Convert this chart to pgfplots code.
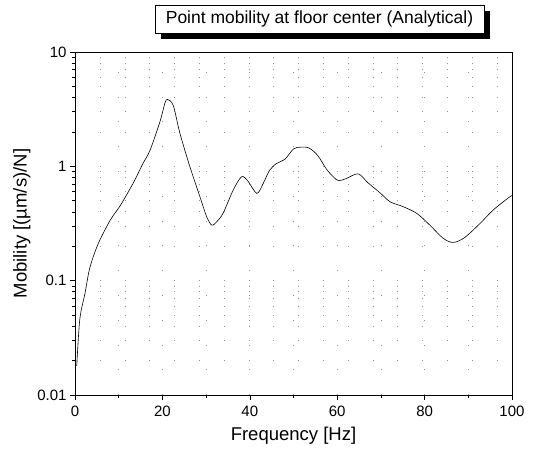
\documentclass[border=0pt]{standalone}
\usepackage{fontspec}
\setmainfont{Liberation Sans}
\usepackage{pgfplots}
\pgfplotsset{compat=1.18}
\begin{document}
\begin{tikzpicture}
\useasboundingbox (-75pt,-56pt) rectangle (461pt,395pt);
\begin{axis}[
  scale only axis,
  width=437pt, height=343pt,
  at={(0pt,0pt)}, anchor=south west,
  ymode=log,
  xmin=0, xmax=100, ymin=0.01, ymax=10,
  xtick={0,20,40,60,80,100},
  minor xtick={10,30,50,70,90},
  ytick={0.01,0.1,1,10},
  yticklabels={0.01,0.1,1,10},
  tick align=outside,
  xtick pos=left, ytick pos=left,
  major tick length=5pt, minor tick length=3pt,
  grid=both,
  major grid style={gray!80, line width=0.7pt, dash pattern=on 0.8pt off 24pt},
  minor grid style={gray!80, line width=0.7pt, dash pattern=on 0.8pt off 24pt},
  axis line style={line width=0.8pt},
  tick style={black, line width=0.6pt},
  /pgf/number format/assume math mode=true,
  ticklabel style={font=\fontsize{15}{17}\selectfont},
  xticklabel style={yshift=-2pt},
  label style={font=\fontsize{18.5}{20}\selectfont},
  xlabel={Frequency [Hz]},
  ylabel={Mobility [(µm/s)/N]},
  xlabel style={yshift=-4pt},
  ylabel style={yshift=0pt},
]
\addplot[black, line width=0.6pt, smooth] coordinates {
(0.4,0.0180) (1.1,0.046) (2.3,0.078) (3.4,0.13) (5.3,0.21) (8,0.335)
(10.3,0.45) (12,0.58) (13.7,0.76) (15.5,1.05) (17.2,1.39) (19.5,2.5)
(20.6,3.6) (21.2,3.85) (22.5,3.4) (24,1.95) (26.3,0.99) (28.6,0.54)
(30.1,0.365) (31.3,0.306) (32.5,0.33) (33.9,0.39) (36.2,0.62) (38.1,0.81)
(39.5,0.75) (41.6,0.58) (43,0.7) (44.5,0.92) (46.1,1.06) (48,1.15)
(50,1.42) (51.5,1.47) (53.5,1.45) (55.5,1.25) (57.5,0.95) (59.1,0.81)
(60.3,0.75) (62,0.78) (64.8,0.86) (67,0.72) (69.8,0.587) (72.1,0.49)
(75.1,0.444) (78.2,0.388) (81.2,0.306) (84.3,0.234) (86.6,0.216)
(89.2,0.239) (92.7,0.317) (95.7,0.415) (99.5,0.542) (100,0.55)
};
\end{axis}
\fill[black] (86pt,356pt) rectangle (415pt,384pt);
\node[draw=black, line width=0.6pt, fill=white, minimum width=329pt, minimum height=28pt,
  inner sep=0pt, font=\fontsize{17.5}{20}\selectfont] at (244.5pt,376pt) {Point mobility at floor center (Analytical)};
\end{tikzpicture}
\end{document}
